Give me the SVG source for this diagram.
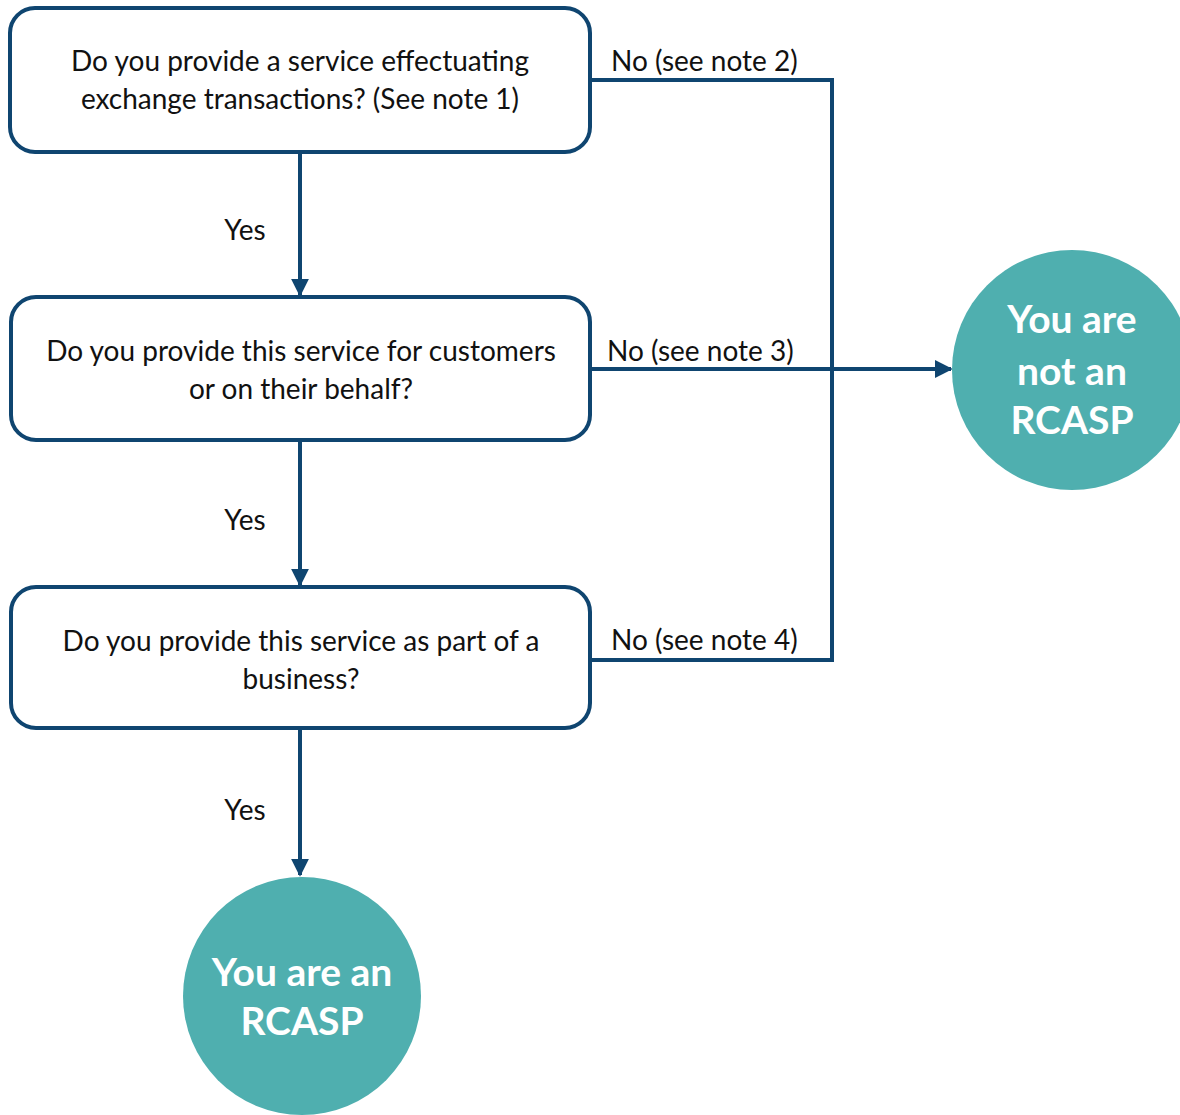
<svg xmlns="http://www.w3.org/2000/svg" width="1180" height="1115" viewBox="0 0 1180 1115">
<style>
.box{fill:#fff;stroke:#0f4570;stroke-width:4}
.ln{fill:none;stroke:#0f4570;stroke-width:4}
.t{font-family:Lato,"Open Sans",sans-serif;font-size:28px;fill:#111}
.c{fill:#4fafaf}
.ct{font-family:Lato,"Open Sans",sans-serif;font-size:39px;font-weight:bold;fill:#fff;text-anchor:middle}
</style>
<defs>
<marker id="ah" viewBox="0 0 10 10" refX="9" refY="5" markerWidth="4.5" markerHeight="4.5" orient="auto" markerUnits="strokeWidth">
<path d="M0,0 L10,5 L0,10 Z" fill="#0f4570"/>
</marker>
</defs>
<g id="connectors">
<line class="ln" x1="300" y1="152" x2="300" y2="295" marker-end="url(#ah)"/>
<line class="ln" x1="300" y1="440" x2="300" y2="585" marker-end="url(#ah)"/>
<line class="ln" x1="300" y1="728" x2="300" y2="875" marker-end="url(#ah)"/>
<polyline class="ln" points="590,80 832,80 832,660 590,660"/>
<line class="ln" x1="590" y1="369" x2="951" y2="369" marker-end="url(#ah)"/>
<text class="t" x="245" y="240" text-anchor="middle">Yes</text>
<text class="t" x="245" y="530" text-anchor="middle">Yes</text>
<text class="t" x="245" y="820" text-anchor="middle">Yes</text>
<text class="t" x="611" y="71">No (see note 2)</text>
<text class="t" x="607" y="361">No (see note 3)</text>
<text class="t" x="611" y="650">No (see note 4)</text>
</g>
<g id="q1">
<rect class="box" x="10" y="8" width="580" height="144" rx="25"/>
<text class="t" x="300" y="71" text-anchor="middle">Do you provide a service effectuating</text>
<text class="t" x="300" y="109" text-anchor="middle">exchange transactions? (See note 1)</text>
</g>
<g id="q2">
<rect class="box" x="11" y="297" width="579" height="143" rx="25"/>
<text class="t" x="301" y="361" text-anchor="middle">Do you provide this service for customers</text>
<text class="t" x="301" y="399" text-anchor="middle">or on their behalf?</text>
</g>
<g id="q3">
<rect class="box" x="11" y="587" width="579" height="141" rx="25"/>
<text class="t" x="301" y="651" text-anchor="middle">Do you provide this service as part of a</text>
<text class="t" x="301" y="689" text-anchor="middle">business?</text>
</g>
<g id="not-rcasp">
<circle class="c" cx="1072" cy="370" r="120"/>
<text class="ct" x="1072" y="333">You are</text>
<text class="ct" x="1072" y="385">not an</text>
<text class="ct" x="1072" y="434">RCASP</text>
</g>
<g id="rcasp">
<circle class="c" cx="302" cy="996" r="119"/>
<text class="ct" x="302" y="986">You are an</text>
<text class="ct" x="302" y="1035">RCASP</text>
</g>
</svg>
